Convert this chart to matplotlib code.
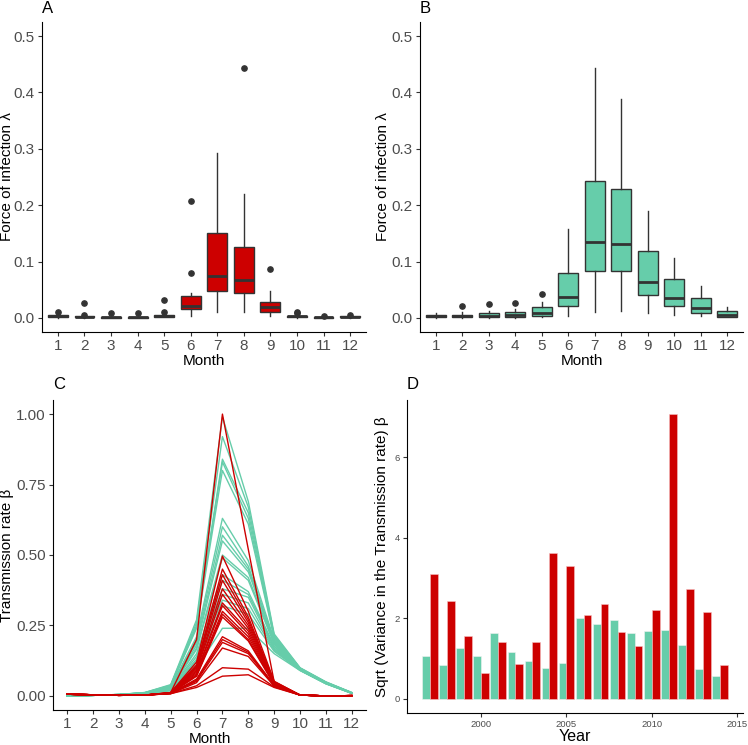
import matplotlib
matplotlib.use("Agg")
import matplotlib.pyplot as plt
import numpy as np

plt.rcParams['font.family'] = ['Liberation Sans', 'DejaVu Sans']

RED = "#CD0000"
TEAL = "#66CDAA"

months = list(range(1, 13))
month_labels = [str(m) for m in months]

# Panel A (red) box statistics
a_lo  = [0.000, 0.000, 0.000, 0.000, 0.001, 0.004, 0.011, 0.011, 0.003, 0.000, 0.000, 0.000]
a_q1  = [0.001, 0.001, 0.000, 0.000, 0.002, 0.015, 0.048, 0.045, 0.011, 0.001, 0.000, 0.001]
a_med = [0.003, 0.002, 0.001, 0.001, 0.004, 0.022, 0.074, 0.067, 0.019, 0.003, 0.001, 0.002]
a_q3  = [0.005, 0.004, 0.002, 0.002, 0.006, 0.038, 0.150, 0.126, 0.028, 0.004, 0.001, 0.003]
a_hi  = [0.008, 0.004, 0.003, 0.003, 0.007, 0.045, 0.292, 0.220, 0.048, 0.006, 0.002, 0.004]
a_fliers = [[0.010], [0.026, 0.005], [0.008], [0.008], [0.032, 0.011],
            [0.080, 0.207], [], [0.444], [0.087], [0.011, 0.008], [0.003], [0.005]]

# Panel B (teal) box statistics
b_lo  = [0.000, 0.000, 0.000, 0.000, 0.001, 0.004, 0.011, 0.012, 0.008, 0.005, 0.003, 0.001]
b_q1  = [0.001, 0.001, 0.002, 0.002, 0.003, 0.022, 0.084, 0.084, 0.041, 0.022, 0.009, 0.002]
b_med = [0.003, 0.003, 0.004, 0.006, 0.008, 0.037, 0.134, 0.131, 0.064, 0.035, 0.018, 0.006]
b_q3  = [0.006, 0.006, 0.009, 0.010, 0.019, 0.080, 0.243, 0.229, 0.119, 0.069, 0.036, 0.012]
b_hi  = [0.009, 0.010, 0.013, 0.016, 0.028, 0.157, 0.444, 0.389, 0.190, 0.107, 0.056, 0.020]
b_fliers = [[], [0.022], [0.024], [0.026], [0.043], [], [], [], [], [], [], []]

# Panel C: transmission rate curves (one per year)
teal_lines = [
    [0.000, 0.002, 0.005, 0.012, 0.040, 0.270, 0.990, 0.690, 0.220, 0.100, 0.050, 0.012],
    [0.000, 0.002, 0.005, 0.012, 0.038, 0.260, 0.920, 0.670, 0.215, 0.099, 0.049, 0.012],
    [0.000, 0.002, 0.005, 0.011, 0.036, 0.250, 0.840, 0.650, 0.212, 0.098, 0.048, 0.011],
    [0.000, 0.002, 0.005, 0.011, 0.035, 0.245, 0.830, 0.630, 0.208, 0.097, 0.048, 0.011],
    [0.000, 0.002, 0.005, 0.011, 0.034, 0.240, 0.800, 0.610, 0.205, 0.097, 0.047, 0.011],
    [0.000, 0.002, 0.005, 0.010, 0.032, 0.210, 0.630, 0.480, 0.200, 0.096, 0.047, 0.011],
    [0.000, 0.002, 0.005, 0.010, 0.030, 0.200, 0.600, 0.460, 0.196, 0.096, 0.047, 0.011],
    [0.000, 0.002, 0.004, 0.010, 0.029, 0.190, 0.570, 0.450, 0.192, 0.095, 0.046, 0.010],
    [0.000, 0.002, 0.004, 0.010, 0.028, 0.180, 0.550, 0.440, 0.190, 0.095, 0.046, 0.010],
    [0.000, 0.002, 0.004, 0.009, 0.027, 0.170, 0.500, 0.420, 0.186, 0.094, 0.046, 0.010],
    [0.000, 0.002, 0.004, 0.009, 0.026, 0.165, 0.490, 0.410, 0.184, 0.094, 0.045, 0.010],
    [0.000, 0.002, 0.004, 0.009, 0.025, 0.150, 0.430, 0.370, 0.178, 0.093, 0.045, 0.010],
    [0.000, 0.002, 0.004, 0.009, 0.024, 0.140, 0.410, 0.360, 0.175, 0.093, 0.045, 0.010],
    [0.000, 0.002, 0.004, 0.008, 0.023, 0.130, 0.380, 0.350, 0.170, 0.092, 0.044, 0.010],
    [0.000, 0.002, 0.004, 0.008, 0.022, 0.125, 0.360, 0.330, 0.166, 0.092, 0.044, 0.010],
    [0.000, 0.002, 0.004, 0.008, 0.021, 0.120, 0.340, 0.310, 0.162, 0.091, 0.044, 0.010],
    [0.000, 0.002, 0.003, 0.008, 0.020, 0.110, 0.320, 0.290, 0.158, 0.091, 0.043, 0.009],
    [0.000, 0.002, 0.003, 0.007, 0.018, 0.100, 0.240, 0.240, 0.150, 0.090, 0.043, 0.009],
]
red_lines = [
    [0.006, 0.004, 0.002, 0.003, 0.012, 0.200, 1.000, 0.520, 0.050, 0.003, 0.000, 0.001],
    [0.006, 0.004, 0.002, 0.003, 0.012, 0.120, 0.496, 0.300, 0.052, 0.003, 0.000, 0.001],
    [0.006, 0.004, 0.002, 0.003, 0.011, 0.110, 0.450, 0.280, 0.050, 0.003, 0.000, 0.001],
    [0.006, 0.004, 0.002, 0.003, 0.011, 0.105, 0.430, 0.270, 0.048, 0.003, 0.000, 0.001],
    [0.006, 0.004, 0.002, 0.003, 0.011, 0.100, 0.410, 0.260, 0.047, 0.003, 0.000, 0.001],
    [0.006, 0.004, 0.002, 0.003, 0.010, 0.095, 0.380, 0.250, 0.046, 0.003, 0.000, 0.001],
    [0.006, 0.004, 0.002, 0.003, 0.010, 0.090, 0.360, 0.240, 0.045, 0.003, 0.000, 0.001],
    [0.006, 0.004, 0.002, 0.003, 0.010, 0.085, 0.330, 0.230, 0.044, 0.003, 0.000, 0.001],
    [0.006, 0.004, 0.002, 0.003, 0.010, 0.080, 0.320, 0.220, 0.043, 0.003, 0.000, 0.001],
    [0.006, 0.004, 0.002, 0.003, 0.010, 0.075, 0.300, 0.210, 0.042, 0.003, 0.000, 0.001],
    [0.006, 0.004, 0.002, 0.003, 0.010, 0.072, 0.290, 0.200, 0.041, 0.003, 0.000, 0.001],
    [0.006, 0.004, 0.002, 0.003, 0.009, 0.070, 0.280, 0.195, 0.040, 0.003, 0.000, 0.001],
    [0.006, 0.004, 0.002, 0.003, 0.009, 0.060, 0.210, 0.160, 0.038, 0.003, 0.000, 0.001],
    [0.006, 0.004, 0.002, 0.003, 0.009, 0.056, 0.200, 0.155, 0.037, 0.003, 0.000, 0.001],
    [0.006, 0.004, 0.002, 0.003, 0.009, 0.052, 0.190, 0.150, 0.036, 0.003, 0.000, 0.001],
    [0.006, 0.004, 0.002, 0.003, 0.008, 0.047, 0.170, 0.140, 0.035, 0.003, 0.000, 0.001],
    [0.006, 0.004, 0.002, 0.003, 0.008, 0.036, 0.100, 0.095, 0.032, 0.003, 0.000, 0.001],
    [0.006, 0.004, 0.002, 0.003, 0.008, 0.030, 0.070, 0.075, 0.030, 0.003, 0.000, 0.001],
]

# Panel D: sqrt variance per year
years = list(range(1997, 2015))
teal_var = [1.07, 0.85, 1.27, 1.06, 1.63, 1.17, 0.94, 0.77, 0.89, 2.01,
            1.86, 1.95, 1.63, 1.69, 1.71, 1.33, 0.75, 0.57]
red_var = [3.09, 2.44, 1.57, 0.64, 1.41, 0.86, 1.41, 3.63, 3.30, 2.09,
           2.35, 1.65, 1.32, 2.21, 7.07, 2.72, 2.16, 0.84]

W, H = 748, 745
fig = plt.figure(figsize=(W / 100, H / 100), dpi=100)

def frac(l, t, r, b):
    return [l / W, 1 - b / H, (r - l) / W, (b - t) / H]

TICK_COL = "#4D4D4D"

def style(ax, tick_size=11):
    for s in ["top", "right"]:
        ax.spines[s].set_visible(False)
    for s in ["left", "bottom"]:
        ax.spines[s].set_color("black")
        ax.spines[s].set_linewidth(0.8)
    ax.tick_params(axis="both", colors="#333333", length=2.7, width=0.8,
                   labelsize=tick_size, labelcolor=TICK_COL, pad=2.5)

def boxpanel(ax, lo, q1, med, q3, hi, fl, color, ylab_x):
    stats = []
    for i in range(len(months)):
        stats.append(dict(whislo=lo[i], q1=q1[i], med=med[i], q3=q3[i],
                          whishi=hi[i], fliers=fl[i]))
    ax.bxp(stats, positions=months, widths=0.75, patch_artist=True,
           showcaps=False,
           boxprops=dict(facecolor=color, edgecolor="#333333", linewidth=1.0),
           medianprops=dict(color="#333333", linewidth=2.0),
           whiskerprops=dict(color="#333333", linewidth=1.0),
           flierprops=dict(marker="o", markerfacecolor="#333333",
                           markeredgecolor="#333333", markersize=3.8))
    ax.set_xlim(0.4, 12.6)
    ax.set_ylim(-0.025, 0.525)
    ax.set_xticks(months)
    ax.set_xticklabels(month_labels)
    ax.set_yticks([0.0, 0.1, 0.2, 0.3, 0.4, 0.5])
    ax.set_yticklabels(["0.0", "0.1", "0.2", "0.3", "0.4", "0.5"])
    style(ax)
    ax.set_xlabel("Month", fontsize=11)
    ax.set_ylabel("Force of infection λ", fontsize=11)
    ax.xaxis.set_label_coords(0.5, -0.072)
    ax.yaxis.set_label_coords(ylab_x, 0.5)

axA = fig.add_axes(frac(42, 22, 366, 332))
boxpanel(axA, a_lo, a_q1, a_med, a_q3, a_hi, a_fliers, RED, -0.086)
axB = fig.add_axes(frac(420, 22, 743, 332))
boxpanel(axB, b_lo, b_q1, b_med, b_q3, b_hi, b_fliers, TEAL, -0.094)

# Panel C
axC = fig.add_axes(frac(53, 400, 366, 710))
for ln in teal_lines:
    axC.plot(months, ln, color=TEAL, linewidth=1.0)
for ln in red_lines:
    axC.plot(months, ln, color=RED, linewidth=1.0)
axC.set_xlim(0.45, 12.55)
axC.set_ylim(-0.05, 1.05)
axC.set_xticks(months)
axC.set_xticklabels(month_labels)
axC.set_yticks([0.0, 0.25, 0.5, 0.75, 1.0])
axC.set_yticklabels(["0.00", "0.25", "0.50", "0.75", "1.00"])
style(axC)
axC.set_xlabel("Month", fontsize=11)
axC.set_ylabel("Transmission rate β", fontsize=11)
axC.xaxis.set_label_coords(0.5, -0.072)
axC.yaxis.set_label_coords(-0.124, 0.5)

# Panel D
axD = fig.add_axes(frac(407, 400, 743, 713))
yrs = np.array(years)
axD.bar(yrs - 0.225, teal_var, width=0.45, color=TEAL, edgecolor="#F2F2F2", linewidth=0.4)
axD.bar(yrs + 0.225, red_var, width=0.45, color=RED, edgecolor="#F5C0C0", linewidth=0.4)
axD.set_xlim(1995.66, 2015.34)
axD.set_ylim(-0.354, 7.42)
axD.set_xticks([2000, 2005, 2010, 2015])
axD.set_yticks([0, 2, 4, 6])
style(axD, tick_size=6.8)
axD.set_xlabel("Year", fontsize=11.5)
axD.set_ylabel("Sqrt (Variance in the Transmission rate) β", fontsize=11)
axD.xaxis.set_label_coords(0.5, -0.052)
axD.yaxis.set_label_coords(-0.054, 0.5)

# Panel letters
fig.text(42 / W, 1 - 1 / H, "A", fontsize=12, va="top", ha="left")
fig.text(420 / W, 1 - 1 / H, "B", fontsize=12, va="top", ha="left")
fig.text(53 / W, 1 - 377 / H, "C", fontsize=12, va="top", ha="left")
fig.text(407 / W, 1 - 377 / H, "D", fontsize=12, va="top", ha="left")

fig.savefig("out.png", dpi=100)
